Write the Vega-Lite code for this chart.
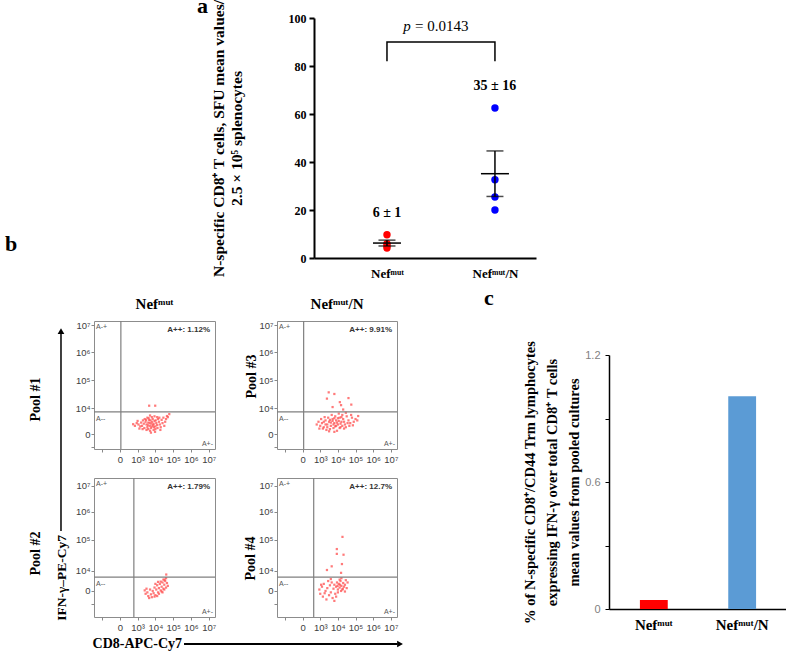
{
"$schema":"https://vega.github.io/schema/vega-lite/v6.json",
"padding":{"left":5,"top":-5,"right":0,"bottom":0},
"config":{"view":{"stroke":null},"axis":{"grid":false,"labelOverlap":false,"labelFlush":false},"text":{"font":"Liberation Serif"}},
"datasets":{
"sfu":[
{"group":"Nefᵐᵘᵗ","sfu":9.7,"summary":"6 ± 1"},{"group":"Nefᵐᵘᵗ","sfu":6.0,"summary":"6 ± 1"},{"group":"Nefᵐᵘᵗ","sfu":4.2,"summary":"6 ± 1"},{"group":"Nefᵐᵘᵗ","sfu":5.0,"summary":"6 ± 1"},
{"group":"Nefᵐᵘᵗ/N","sfu":62.5,"summary":"35 ± 16"},{"group":"Nefᵐᵘᵗ/N","sfu":32.6,"summary":"35 ± 16"},{"group":"Nefᵐᵘᵗ/N","sfu":25.4,"summary":"35 ± 16"},{"group":"Nefᵐᵘᵗ/N","sfu":20.0,"summary":"35 ± 16"}],
"bracket":[{"group":"Nefᵐᵘᵗ","y":82,"k":1},{"group":"Nefᵐᵘᵗ","y":90,"k":2},{"group":"Nefᵐᵘᵗ/N","y":90,"k":3},{"group":"Nefᵐᵘᵗ/N","y":82,"k":4}],
"pval":[{"from":"Nefᵐᵘᵗ","to":"Nefᵐᵘᵗ/N","label":"= 0.0143"}],
"pct":[{"group":"Nefᵐᵘᵗ","pct":0.043},{"group":"Nefᵐᵘᵗ/N","pct":1.005}],
"gates":[{"p":"TL","gx":0.06,"gy":0.81,"q":"A++: 1.12%"},{"p":"TR","gx":0.06,"gy":0.81,"q":"A++: 9.91%"},{"p":"BL","gx":0.79,"gy":0.49,"q":"A++: 1.79%"},{"p":"BR","gx":0.63,"gy":0.49,"q":"A++: 12.7%"}],
"events":[
{"p":"TL","x":1.5,"y":0.35},{"p":"TL","x":1.6,"y":0.42},{"p":"TL","x":1.7,"y":0.30},{"p":"TL","x":1.8,"y":0.45},{"p":"TL","x":1.9,"y":0.38},{"p":"TL","x":2.0,"y":0.28},{"p":"TL","x":1.65,"y":0.52},{"p":"TL","x":1.75,"y":0.22},{"p":"TL","x":1.85,"y":0.55},{"p":"TL","x":1.95,"y":0.48},{"p":"TL","x":2.05,"y":0.40},{"p":"TL","x":2.1,"y":0.33},{"p":"TL","x":1.55,"y":0.25},{"p":"TL","x":1.45,"y":0.45},{"p":"TL","x":1.35,"y":0.38},{"p":"TL","x":1.25,"y":0.30},{"p":"TL","x":1.4,"y":0.55},{"p":"TL","x":1.3,"y":0.50},{"p":"TL","x":2.2,"y":0.45},{"p":"TL","x":2.25,"y":0.35},{"p":"TL","x":2.15,"y":0.55},{"p":"TL","x":2.3,"y":0.25},{"p":"TL","x":2.0,"y":0.18},{"p":"TL","x":1.9,"y":0.15},{"p":"TL","x":1.7,"y":0.12},{"p":"TL","x":1.6,"y":0.18},{"p":"TL","x":1.5,"y":0.15},{"p":"TL","x":1.8,"y":0.62},{"p":"TL","x":1.95,"y":0.65},{"p":"TL","x":2.1,"y":0.62},{"p":"TL","x":1.55,"y":0.60},{"p":"TL","x":1.7,"y":0.68},{"p":"TL","x":2.35,"y":0.52},{"p":"TL","x":2.4,"y":0.40},{"p":"TL","x":2.45,"y":0.60},{"p":"TL","x":1.2,"y":0.42},{"p":"TL","x":1.15,"y":0.28},{"p":"TL","x":1.05,"y":0.35},{"p":"TL","x":0.95,"y":0.40},{"p":"TL","x":0.85,"y":0.30},{"p":"TL","x":0.75,"y":0.36},{"p":"TL","x":1.0,"y":0.48},{"p":"TL","x":1.1,"y":0.20},{"p":"TL","x":2.55,"y":0.45},{"p":"TL","x":2.6,"y":0.55},{"p":"TL","x":2.7,"y":0.62},{"p":"TL","x":1.88,"y":0.33},{"p":"TL","x":1.78,"y":0.38},{"p":"TL","x":1.68,"y":0.40},{"p":"TL","x":1.58,"y":0.32},{"p":"TL","x":2.02,"y":0.50},{"p":"TL","x":1.92,"y":0.25},{"p":"TL","x":1.82,"y":0.28},{"p":"TL","x":1.72,"y":0.50},{"p":"TL","x":1.62,"y":0.58},{"p":"TL","x":2.12,"y":0.22},{"p":"TL","x":2.22,"y":0.60},{"p":"TL","x":1.48,"y":0.52},{"p":"TL","x":1.38,"y":0.22},{"p":"TL","x":1.28,"y":0.18},{"p":"TL","x":2.28,"y":0.15},{"p":"TL","x":1.98,"y":0.08},{"p":"TL","x":1.75,"y":0.05},{"p":"TL","x":2.5,"y":0.30},{"p":"TL","x":2.65,"y":0.66},{"p":"TL","x":1.65,"y":1.04},{"p":"TL","x":1.99,"y":1.04},{"p":"TL","x":2.78,"y":0.73},
{"p":"TR","x":0.8,"y":0.35},{"p":"TR","x":0.9,"y":0.45},{"p":"TR","x":1.0,"y":0.30},{"p":"TR","x":1.1,"y":0.40},{"p":"TR","x":1.2,"y":0.25},{"p":"TR","x":1.3,"y":0.50},{"p":"TR","x":1.4,"y":0.35},{"p":"TR","x":1.5,"y":0.45},{"p":"TR","x":1.6,"y":0.30},{"p":"TR","x":1.7,"y":0.55},{"p":"TR","x":1.8,"y":0.40},{"p":"TR","x":1.9,"y":0.50},{"p":"TR","x":2.0,"y":0.35},{"p":"TR","x":2.1,"y":0.60},{"p":"TR","x":2.2,"y":0.45},{"p":"TR","x":2.3,"y":0.55},{"p":"TR","x":2.4,"y":0.35},{"p":"TR","x":2.5,"y":0.65},{"p":"TR","x":2.6,"y":0.50},{"p":"TR","x":2.7,"y":0.40},{"p":"TR","x":2.8,"y":0.60},{"p":"TR","x":2.9,"y":0.45},{"p":"TR","x":3.0,"y":0.55},{"p":"TR","x":3.1,"y":0.50},{"p":"TR","x":1.15,"y":0.20},{"p":"TR","x":1.35,"y":0.15},{"p":"TR","x":1.55,"y":0.18},{"p":"TR","x":1.75,"y":0.22},{"p":"TR","x":1.95,"y":0.12},{"p":"TR","x":2.15,"y":0.25},{"p":"TR","x":2.35,"y":0.20},{"p":"TR","x":1.45,"y":0.60},{"p":"TR","x":1.65,"y":0.70},{"p":"TR","x":1.85,"y":0.65},{"p":"TR","x":2.05,"y":0.75},{"p":"TR","x":2.25,"y":0.70},{"p":"TR","x":2.45,"y":0.78},{"p":"TR","x":1.25,"y":0.62},{"p":"TR","x":1.05,"y":0.55},{"p":"TR","x":0.95,"y":0.20},{"p":"TR","x":1.6,"y":0.42},{"p":"TR","x":1.75,"y":0.35},{"p":"TR","x":1.85,"y":0.28},{"p":"TR","x":1.95,"y":0.42},{"p":"TR","x":2.05,"y":0.48},{"p":"TR","x":2.15,"y":0.38},{"p":"TR","x":2.25,"y":0.30},{"p":"TR","x":1.55,"y":0.52},{"p":"TR","x":1.7,"y":0.48},{"p":"TR","x":1.8,"y":0.58},{"p":"TR","x":1.9,"y":0.30},{"p":"TR","x":2.0,"y":0.58},{"p":"TR","x":2.1,"y":0.22},{"p":"TR","x":2.2,"y":0.62},{"p":"TR","x":2.35,"y":0.45},{"p":"TR","x":2.55,"y":0.40},{"p":"TR","x":2.65,"y":0.30},{"p":"TR","x":2.75,"y":0.70},{"p":"TR","x":1.4,"y":0.25},{"p":"TR","x":1.3,"y":0.35},{"p":"TR","x":1.2,"y":0.45},{"p":"TR","x":2.85,"y":0.32},{"p":"TR","x":3.15,"y":0.66},{"p":"TR","x":1.5,"y":0.10},{"p":"TR","x":1.8,"y":0.08},{"p":"TR","x":2.45,"y":0.25},{"p":"TR","x":1.48,"y":1.53},{"p":"TR","x":1.8,"y":1.47},{"p":"TR","x":2.6,"y":1.32},{"p":"TR","x":1.38,"y":1.30},{"p":"TR","x":2.11,"y":1.17},{"p":"TR","x":1.7,"y":0.99},{"p":"TR","x":2.18,"y":1.06},{"p":"TR","x":2.76,"y":1.08},{"p":"TR","x":2.3,"y":0.90},
{"p":"BL","x":1.40,"y":0.02},{"p":"BL","x":1.45,"y":-0.10},{"p":"BL","x":1.55,"y":-0.05},{"p":"BL","x":1.6,"y":-0.18},{"p":"BL","x":1.7,"y":0.05},{"p":"BL","x":1.75,"y":-0.12},{"p":"BL","x":1.8,"y":-0.22},{"p":"BL","x":1.85,"y":0.00},{"p":"BL","x":1.5,"y":0.08},{"p":"BL","x":1.65,"y":-0.25},{"p":"BL","x":1.9,"y":-0.08},{"p":"BL","x":1.95,"y":0.12},{"p":"BL","x":2.0,"y":-0.15},{"p":"BL","x":2.05,"y":0.05},{"p":"BL","x":2.1,"y":0.20},{"p":"BL","x":2.15,"y":-0.05},{"p":"BL","x":2.2,"y":0.10},{"p":"BL","x":2.25,"y":0.25},{"p":"BL","x":2.3,"y":0.02},{"p":"BL","x":2.35,"y":0.15},{"p":"BL","x":2.4,"y":0.30},{"p":"BL","x":2.45,"y":0.08},{"p":"BL","x":2.5,"y":0.22},{"p":"BL","x":2.55,"y":0.35},{"p":"BL","x":2.6,"y":0.12},{"p":"BL","x":2.65,"y":0.28},{"p":"BL","x":2.7,"y":0.18},{"p":"BL","x":2.2,"y":-0.10},{"p":"BL","x":2.35,"y":-0.02},{"p":"BL","x":2.45,"y":0.40},{"p":"BL","x":2.52,"y":0.40},{"p":"BL","x":2.61,"y":0.58},{"p":"BL","x":2.3,"y":0.33},{"p":"BL","x":2.1,"y":-0.18},{"p":"BL","x":2.0,"y":0.25},{"p":"BL","x":2.4,"y":-0.05},{"p":"BL","x":2.6,"y":0.45},{"p":"BL","x":1.95,"y":-0.20},{"p":"BL","x":2.5,"y":0.05},{"p":"BL","x":2.15,"y":0.32},
{"p":"BR","x":0.95,"y":0.05},{"p":"BR","x":1.0,"y":-0.10},{"p":"BR","x":1.1,"y":0.15},{"p":"BR","x":1.15,"y":-0.20},{"p":"BR","x":1.2,"y":0.25},{"p":"BR","x":1.3,"y":0.00},{"p":"BR","x":1.35,"y":-0.30},{"p":"BR","x":1.4,"y":0.10},{"p":"BR","x":1.5,"y":-0.15},{"p":"BR","x":1.55,"y":0.20},{"p":"BR","x":1.6,"y":-0.05},{"p":"BR","x":1.65,"y":0.30},{"p":"BR","x":1.7,"y":-0.25},{"p":"BR","x":1.75,"y":0.08},{"p":"BR","x":1.8,"y":0.22},{"p":"BR","x":1.85,"y":-0.10},{"p":"BR","x":1.9,"y":0.15},{"p":"BR","x":1.95,"y":0.30},{"p":"BR","x":2.0,"y":0.05},{"p":"BR","x":2.05,"y":0.25},{"p":"BR","x":2.1,"y":0.12},{"p":"BR","x":2.15,"y":0.35},{"p":"BR","x":2.2,"y":0.18},{"p":"BR","x":2.25,"y":0.05},{"p":"BR","x":2.3,"y":0.28},{"p":"BR","x":2.35,"y":0.15},{"p":"BR","x":2.4,"y":0.22},{"p":"BR","x":2.5,"y":0.10},{"p":"BR","x":2.55,"y":0.30},{"p":"BR","x":2.0,"y":-0.05},{"p":"BR","x":2.1,"y":0.40},{"p":"BR","x":2.2,"y":0.45},{"p":"BR","x":1.9,"y":-0.20},{"p":"BR","x":1.45,"y":0.35},{"p":"BR","x":1.25,"y":-0.08},{"p":"BR","x":2.28,"y":0.08},{"p":"BR","x":2.45,"y":0.38},{"p":"BR","x":1.98,"y":0.18},{"p":"BR","x":2.12,"y":0.22},{"p":"BR","x":2.18,"y":0.00},{"p":"BR","x":1.05,"y":0.22},{"p":"BR","x":1.6,"y":0.42},{"p":"BR","x":1.8,"y":-0.35},{"p":"BR","x":2.4,"y":-0.02},{"p":"BR","x":2.26,"y":1.91},{"p":"BR","x":1.94,"y":1.48},{"p":"BR","x":1.94,"y":1.31},{"p":"BR","x":2.32,"y":1.28},{"p":"BR","x":2.23,"y":0.95},{"p":"BR","x":1.65,"y":0.87},{"p":"BR","x":1.38,"y":0.74},{"p":"BR","x":2.18,"y":0.64}
]},
"spacing":7,
"vconcat":[
{"hconcat":[
 {"width":309,"height":233,"title":{"text":"b","orient":"bottom","anchor":"start","offset":0,"baseline":"alphabetic","font":"Liberation Serif","fontSize":22,"fontWeight":"bold","color":"black"},"data":{"values":[]},"mark":"point"},
 {"width":222,"height":240,
  "title":{"text":"a","anchor":"start","frame":"group","dx":-117,"offset":-36,"baseline":"alphabetic","font":"Liberation Serif","fontSize":22,"fontWeight":"bold","color":"black"},
  "layer":[
   {"data":{"name":"sfu"},"mark":{"type":"circle","size":55,"opacity":1},
    "encoding":{
     "x":{"field":"group","type":"nominal","scale":{"type":"point","domain":["Nefᵐᵘᵗ","Nefᵐᵘᵗ/N"],"padding":0.528,"align":0.64},"axis":{"title":null,"labelAngle":0,"ticks":false,"domainColor":"black","domainWidth":2,"labelFont":"Liberation Serif","labelFontWeight":"bold","labelFontSize":13,"labelColor":"black","labelPadding":9}},
     "y":{"field":"sfu","type":"quantitative","scale":{"domain":[0,100],"nice":false},"axis":{"title":["N-specific CD8⁺ T cells, SFU mean values/","2.5 × 10⁵ splenocytes"],"values":[0,20,40,60,80,100],"tickCount":10,"grid":false,"domainColor":"black","domainWidth":2,"tickColor":"black","tickWidth":2,"tickSize":5,"labelFont":"Liberation Serif","labelFontWeight":"bold","labelFontSize":12,"labelColor":"black","labelPadding":3,"titleFont":"Liberation Serif","titleFontWeight":"bold","titleFontSize":15.5,"titleColor":"black","titlePadding":44,"titleLineHeight":18}},
     "color":{"condition":{"test":"datum.group==='Nefᵐᵘᵗ'","value":"#ff0000"},"value":"#0000ff"}}},
   {"data":{"name":"sfu"},"mark":{"type":"errorbar","extent":"stderr","color":"black","thickness":1.5,"ticks":{"size":17,"thickness":1.5,"color":"black"}},
    "encoding":{"x":{"field":"group","type":"nominal","title":""},"y":{"field":"sfu","type":"quantitative","title":""}}},
   {"data":{"name":"sfu"},"mark":{"type":"tick","size":28,"thickness":1.5,"color":"black","orient":"horizontal"},
    "encoding":{"x":{"field":"group","type":"nominal","title":""},"y":{"aggregate":"mean","field":"sfu","type":"quantitative","title":""}}},
   {"data":{"name":"sfu"},"transform":[{"aggregate":[{"op":"max","field":"sfu","as":"top"}],"groupby":["group","summary"]}],
    "mark":{"type":"text","dy":-22,"font":"Liberation Serif","fontWeight":"bold","fontSize":14,"color":"black"},
    "encoding":{"x":{"field":"group","type":"nominal","title":""},"y":{"field":"top","type":"quantitative","title":""},"text":{"field":"summary"}}},
   {"data":{"name":"bracket"},"mark":{"type":"line","color":"black","strokeWidth":1.5},
    "encoding":{"x":{"field":"group","type":"nominal","title":""},"y":{"field":"y","type":"quantitative","title":""},"order":{"field":"k"}}},
   {"data":{"name":"pval"},"mark":{"type":"text","dx":20,"fontStyle":"italic","font":"Liberation Serif","fontSize":15,"color":"black"},
    "encoding":{"x":{"field":"from","type":"nominal","title":""},"y":{"datum":96.5,"type":"quantitative","title":""},"text":{"value":"p"}}},
   {"data":{"name":"pval"},"mark":{"type":"text","dx":28,"align":"left","font":"Liberation Serif","fontSize":15,"color":"black"},
    "encoding":{"x":{"field":"from","type":"nominal","title":""},"y":{"datum":96.5,"type":"quantitative","title":""},"text":{"field":"label"}}}
  ]}
],"spacing":0,"bounds":"flush"},
{"hconcat":[
 {"width":22,"height":1,"data":{"values":[]},"mark":"point"},
 {"columns":3,"spacing":0,"bounds":"flush","align":"each",
  "concat":[
   {"width":121,"height":128,"view":{"stroke":"#8c8c8c"},
    "title":{"text":"Nefᵐᵘᵗ","anchor":"middle","offset":-4,"baseline":"alphabetic","font":"Liberation Serif","fontSize":15,"fontWeight":"bold","color":"black"},
    "layer":[
     {"data":{"name":"events"},"transform":[{"filter":"datum.p==='TL'"}],"mark":{"type":"square","size":5,"color":"#ff4d4d","opacity":0.75},
      "encoding":{
       "x":{"field":"x","type":"quantitative","scale":{"domain":[-1.45,5.35],"nice":false,"zero":false},"axis":{"title":null,"values":[-1,0,1,2,3,4,5],"tickCount":20,"labelExpr":"datum.value<0?'':['0','10³','10⁴','10⁵','10⁶','10⁷'][datum.value]","labelOverlap":false,"domain":false,"tickColor":"#888888","tickSize":3,"labelFont":"Liberation Sans","labelFontSize":9.5,"labelColor":"#404040","labelPadding":2}},
       "y":{"field":"y","type":"quantitative","scale":{"domain":[-0.55,4.15],"nice":false,"zero":false},"axis":{"title":"Pool #1","titleX":-59,"titleY":78,"titleAngle":270,"titleAlign":"center","titleBaseline":"middle","titleFont":"Liberation Serif","titleFontWeight":"bold","titleFontSize":14,"titleColor":"black","values":[-0.48,0,0.95,1.98,3.01,4.0],"tickCount":20,"labelExpr":"datum.value<-0.1?'':datum.value<0.5?'0':datum.value<1.5?'10⁴':datum.value<2.5?'10⁵':datum.value<3.5?'10⁶':'10⁷'","labelOverlap":false,"domain":false,"tickColor":"#888888","tickSize":3,"labelFont":"Liberation Sans","labelFontSize":9.5,"labelColor":"#404040","labelPadding":1}}}},
     {"data":{"name":"gates"},"transform":[{"filter":"datum.p==='TL'"}],"mark":{"type":"rule","color":"#7f7f7f","strokeWidth":1.2},"encoding":{"x":{"field":"gx","type":"quantitative"}}},
     {"data":{"name":"gates"},"transform":[{"filter":"datum.p==='TL'"}],"mark":{"type":"rule","color":"#7f7f7f","strokeWidth":1.2},"encoding":{"y":{"field":"gy","type":"quantitative"}}},
     {"data":{"name":"gates"},"transform":[{"filter":"datum.p==='TL'"}],"mark":{"type":"text","align":"right","baseline":"top","dx":-5,"dy":5,"font":"Liberation Sans","fontSize":8,"fontWeight":"bold","color":"#333333"},"encoding":{"x":{"datum":5.35,"type":"quantitative"},"y":{"datum":4.15,"type":"quantitative"},"text":{"field":"q"}}},
     {"data":{"name":"gates"},"transform":[{"filter":"datum.p==='TL'"}],"mark":{"type":"text","align":"left","baseline":"top","dx":2,"dy":2,"font":"Liberation Sans","fontSize":7,"color":"#555555"},"encoding":{"x":{"datum":-1.45,"type":"quantitative"},"y":{"datum":4.15,"type":"quantitative"},"text":{"value":"A-+"}}},
     {"data":{"name":"gates"},"transform":[{"filter":"datum.p==='TL'"}],"mark":{"type":"text","align":"left","baseline":"top","dx":2,"dy":3,"font":"Liberation Sans","fontSize":7,"color":"#555555"},"encoding":{"x":{"datum":-1.45,"type":"quantitative"},"y":{"field":"gy","type":"quantitative"},"text":{"value":"A--"}}},
     {"data":{"name":"gates"},"transform":[{"filter":"datum.p==='TL'"}],"mark":{"type":"text","align":"right","baseline":"bottom","dx":-2,"dy":-2,"font":"Liberation Sans","fontSize":7,"color":"#555555"},"encoding":{"x":{"datum":5.35,"type":"quantitative"},"y":{"datum":-0.55,"type":"quantitative"},"text":{"value":"A+-"}}},
     {"data":{"name":"gates"},"transform":[{"filter":"datum.p==='TL'"}],"mark":{"type":"rule","color":"black","strokeWidth":1.5},"encoding":{"x":{"datum":-3.305,"type":"quantitative"},"y":{"datum":3.75,"type":"quantitative"},"y2":{"datum":-3.562}}},
     {"data":{"name":"gates"},"transform":[{"filter":"datum.p==='TL'"}],"mark":{"type":"point","shape":"triangle-up","filled":true,"size":45,"color":"black","opacity":1},"encoding":{"x":{"datum":-3.305,"type":"quantitative"},"y":{"datum":3.78,"type":"quantitative"}}},
     {"data":{"name":"gates"},"transform":[{"filter":"datum.p==='TL'"}],"mark":{"type":"text","angle":270,"align":"right","baseline":"middle","font":"Liberation Serif","fontSize":13.5,"fontWeight":"bold","color":"black"},"encoding":{"x":{"datum":-3.249,"type":"quantitative"},"y":{"datum":-3.709,"type":"quantitative"},"text":{"value":"IFN-γ–PE-Cy7"}}}
    ]},
   {"width":62,"height":1,"data":{"values":[]},"mark":"point"},
   {"width":120,"height":128,"view":{"stroke":"#8c8c8c"},
    "title":{"text":"Nefᵐᵘᵗ/N","anchor":"middle","offset":-4,"baseline":"alphabetic","font":"Liberation Serif","fontSize":15,"fontWeight":"bold","color":"black"},
    "layer":[
     {"data":{"name":"events"},"transform":[{"filter":"datum.p==='TR'"}],"mark":{"type":"square","size":5,"color":"#ff4d4d","opacity":0.75},
      "encoding":{
       "x":{"field":"x","type":"quantitative","scale":{"domain":[-1.45,5.35],"nice":false,"zero":false},"axis":{"title":null,"values":[-1,0,1,2,3,4,5],"tickCount":20,"labelExpr":"datum.value<0?'':['0','10³','10⁴','10⁵','10⁶','10⁷'][datum.value]","labelOverlap":false,"domain":false,"tickColor":"#888888","tickSize":3,"labelFont":"Liberation Sans","labelFontSize":9.5,"labelColor":"#404040","labelPadding":2}},
       "y":{"field":"y","type":"quantitative","scale":{"domain":[-0.55,4.15],"nice":false,"zero":false},"axis":{"title":"Pool #3","titleX":-26,"titleY":55,"titleAngle":270,"titleAlign":"center","titleBaseline":"middle","titleFont":"Liberation Serif","titleFontWeight":"bold","titleFontSize":14,"titleColor":"black","values":[-0.48,0,0.95,1.98,3.01,4.0],"tickCount":20,"labelExpr":"datum.value<-0.1?'':datum.value<0.5?'0':datum.value<1.5?'10⁴':datum.value<2.5?'10⁵':datum.value<3.5?'10⁶':'10⁷'","labelOverlap":false,"domain":false,"tickColor":"#888888","tickSize":3,"labelFont":"Liberation Sans","labelFontSize":9.5,"labelColor":"#404040","labelPadding":1}}}},
     {"data":{"name":"gates"},"transform":[{"filter":"datum.p==='TR'"}],"mark":{"type":"rule","color":"#7f7f7f","strokeWidth":1.2},"encoding":{"x":{"field":"gx","type":"quantitative"}}},
     {"data":{"name":"gates"},"transform":[{"filter":"datum.p==='TR'"}],"mark":{"type":"rule","color":"#7f7f7f","strokeWidth":1.2},"encoding":{"y":{"field":"gy","type":"quantitative"}}},
     {"data":{"name":"gates"},"transform":[{"filter":"datum.p==='TR'"}],"mark":{"type":"text","align":"right","baseline":"top","dx":-5,"dy":5,"font":"Liberation Sans","fontSize":8,"fontWeight":"bold","color":"#333333"},"encoding":{"x":{"datum":5.35,"type":"quantitative"},"y":{"datum":4.15,"type":"quantitative"},"text":{"field":"q"}}},
     {"data":{"name":"gates"},"transform":[{"filter":"datum.p==='TR'"}],"mark":{"type":"text","align":"left","baseline":"top","dx":2,"dy":2,"font":"Liberation Sans","fontSize":7,"color":"#555555"},"encoding":{"x":{"datum":-1.45,"type":"quantitative"},"y":{"datum":4.15,"type":"quantitative"},"text":{"value":"A-+"}}},
     {"data":{"name":"gates"},"transform":[{"filter":"datum.p==='TR'"}],"mark":{"type":"text","align":"left","baseline":"top","dx":2,"dy":3,"font":"Liberation Sans","fontSize":7,"color":"#555555"},"encoding":{"x":{"datum":-1.45,"type":"quantitative"},"y":{"field":"gy","type":"quantitative"},"text":{"value":"A--"}}},
     {"data":{"name":"gates"},"transform":[{"filter":"datum.p==='TR'"}],"mark":{"type":"text","align":"right","baseline":"bottom","dx":-2,"dy":-2,"font":"Liberation Sans","fontSize":7,"color":"#555555"},"encoding":{"x":{"datum":5.35,"type":"quantitative"},"y":{"datum":-0.55,"type":"quantitative"},"text":{"value":"A+-"}}}
    ]},
   {"width":1,"height":29,"data":{"values":[]},"mark":"point"},
   {"width":1,"height":1,"data":{"values":[]},"mark":"point"},
   {"width":1,"height":1,"data":{"values":[]},"mark":"point"},
   {"width":121,"height":139,"view":{"stroke":"#8c8c8c"},
    "layer":[
     {"data":{"name":"events"},"transform":[{"filter":"datum.p==='BL'"}],"mark":{"type":"square","size":5,"color":"#ff4d4d","opacity":0.75},
      "encoding":{
       "x":{"field":"x","type":"quantitative","scale":{"domain":[-1.45,5.35],"nice":false,"zero":false},"axis":{"title":null,"values":[-1,0,1,2,3,4,5],"tickCount":20,"labelExpr":"datum.value<0?'':['0','10³','10⁴','10⁵','10⁶','10⁷'][datum.value]","labelOverlap":false,"domain":false,"tickColor":"#888888","tickSize":3,"labelFont":"Liberation Sans","labelFontSize":9.5,"labelColor":"#404040","labelPadding":2}},
       "y":{"field":"y","type":"quantitative","scale":{"domain":[-0.92,3.99],"nice":false,"zero":false},"axis":{"title":"Pool #2","titleX":-59,"titleY":75,"titleAngle":270,"titleAlign":"center","titleBaseline":"middle","titleFont":"Liberation Serif","titleFontWeight":"bold","titleFontSize":14,"titleColor":"black","values":[-0.46,0,0.71,1.80,2.79,3.71],"tickCount":20,"labelExpr":"datum.value<-0.1?'':datum.value<0.35?'0':datum.value<1.2?'10⁴':datum.value<2.3?'10⁵':datum.value<3.2?'10⁶':'10⁷'","labelOverlap":false,"domain":false,"tickColor":"#888888","tickSize":3,"labelFont":"Liberation Sans","labelFontSize":9.5,"labelColor":"#404040","labelPadding":1}}}},
     {"data":{"name":"gates"},"transform":[{"filter":"datum.p==='BL'"}],"mark":{"type":"rule","color":"#7f7f7f","strokeWidth":1.2},"encoding":{"x":{"field":"gx","type":"quantitative"}}},
     {"data":{"name":"gates"},"transform":[{"filter":"datum.p==='BL'"}],"mark":{"type":"rule","color":"#7f7f7f","strokeWidth":1.2},"encoding":{"y":{"field":"gy","type":"quantitative"}}},
     {"data":{"name":"gates"},"transform":[{"filter":"datum.p==='BL'"}],"mark":{"type":"text","align":"right","baseline":"top","dx":-5,"dy":5,"font":"Liberation Sans","fontSize":8,"fontWeight":"bold","color":"#333333"},"encoding":{"x":{"datum":5.35,"type":"quantitative"},"y":{"datum":3.99,"type":"quantitative"},"text":{"field":"q"}}},
     {"data":{"name":"gates"},"transform":[{"filter":"datum.p==='BL'"}],"mark":{"type":"text","align":"left","baseline":"top","dx":2,"dy":2,"font":"Liberation Sans","fontSize":7,"color":"#555555"},"encoding":{"x":{"datum":-1.45,"type":"quantitative"},"y":{"datum":3.99,"type":"quantitative"},"text":{"value":"A-+"}}},
     {"data":{"name":"gates"},"transform":[{"filter":"datum.p==='BL'"}],"mark":{"type":"text","align":"left","baseline":"top","dx":2,"dy":3,"font":"Liberation Sans","fontSize":7,"color":"#555555"},"encoding":{"x":{"datum":-1.45,"type":"quantitative"},"y":{"field":"gy","type":"quantitative"},"text":{"value":"A--"}}},
     {"data":{"name":"gates"},"transform":[{"filter":"datum.p==='BL'"}],"mark":{"type":"text","align":"right","baseline":"bottom","dx":-2,"dy":-2,"font":"Liberation Sans","fontSize":7,"color":"#555555"},"encoding":{"x":{"datum":5.35,"type":"quantitative"},"y":{"datum":-0.92,"type":"quantitative"},"text":{"value":"A+-"}}},
     {"data":{"name":"gates"},"transform":[{"filter":"datum.p==='BL'"}],"mark":{"type":"rule","color":"black","strokeWidth":1.8},"encoding":{"x":{"datum":3.609,"type":"quantitative"},"x2":{"datum":15.6},"y":{"datum":-1.874,"type":"quantitative"}}},
     {"data":{"name":"gates"},"transform":[{"filter":"datum.p==='BL'"}],"mark":{"type":"point","shape":"triangle-right","filled":true,"size":45,"color":"black","opacity":1},"encoding":{"x":{"datum":15.75,"type":"quantitative"},"y":{"datum":-1.874,"type":"quantitative"}}},
     {"data":{"name":"gates"},"transform":[{"filter":"datum.p==='BL'"}],"mark":{"type":"text","align":"right","baseline":"middle","font":"Liberation Serif","fontSize":14,"fontWeight":"bold","color":"black"},"encoding":{"x":{"datum":3.497,"type":"quantitative"},"y":{"datum":-1.874,"type":"quantitative"},"text":{"value":"CD8-APC-Cy7"}}}
    ]},
   {"width":62,"height":1,"data":{"values":[]},"mark":"point"},
   {"width":120,"height":139,"view":{"stroke":"#8c8c8c"},
    "layer":[
     {"data":{"name":"events"},"transform":[{"filter":"datum.p==='BR'"}],"mark":{"type":"square","size":5,"color":"#ff4d4d","opacity":0.75},
      "encoding":{
       "x":{"field":"x","type":"quantitative","scale":{"domain":[-1.45,5.35],"nice":false,"zero":false},"axis":{"title":null,"values":[-1,0,1,2,3,4,5],"tickCount":20,"labelExpr":"datum.value<0?'':['0','10³','10⁴','10⁵','10⁶','10⁷'][datum.value]","labelOverlap":false,"domain":false,"tickColor":"#888888","tickSize":3,"labelFont":"Liberation Sans","labelFontSize":9.5,"labelColor":"#404040","labelPadding":2}},
       "y":{"field":"y","type":"quantitative","scale":{"domain":[-0.92,3.99],"nice":false,"zero":false},"axis":{"title":"Pool #4","titleX":-27,"titleY":80,"titleAngle":270,"titleAlign":"center","titleBaseline":"middle","titleFont":"Liberation Serif","titleFontWeight":"bold","titleFontSize":14,"titleColor":"black","values":[-0.46,0,0.71,1.80,2.79,3.71],"tickCount":20,"labelExpr":"datum.value<-0.1?'':datum.value<0.35?'0':datum.value<1.2?'10⁴':datum.value<2.3?'10⁵':datum.value<3.2?'10⁶':'10⁷'","labelOverlap":false,"domain":false,"tickColor":"#888888","tickSize":3,"labelFont":"Liberation Sans","labelFontSize":9.5,"labelColor":"#404040","labelPadding":1}}}},
     {"data":{"name":"gates"},"transform":[{"filter":"datum.p==='BR'"}],"mark":{"type":"rule","color":"#7f7f7f","strokeWidth":1.2},"encoding":{"x":{"field":"gx","type":"quantitative"}}},
     {"data":{"name":"gates"},"transform":[{"filter":"datum.p==='BR'"}],"mark":{"type":"rule","color":"#7f7f7f","strokeWidth":1.2},"encoding":{"y":{"field":"gy","type":"quantitative"}}},
     {"data":{"name":"gates"},"transform":[{"filter":"datum.p==='BR'"}],"mark":{"type":"text","align":"right","baseline":"top","dx":-5,"dy":5,"font":"Liberation Sans","fontSize":8,"fontWeight":"bold","color":"#333333"},"encoding":{"x":{"datum":5.35,"type":"quantitative"},"y":{"datum":3.99,"type":"quantitative"},"text":{"field":"q"}}},
     {"data":{"name":"gates"},"transform":[{"filter":"datum.p==='BR'"}],"mark":{"type":"text","align":"left","baseline":"top","dx":2,"dy":2,"font":"Liberation Sans","fontSize":7,"color":"#555555"},"encoding":{"x":{"datum":-1.45,"type":"quantitative"},"y":{"datum":3.99,"type":"quantitative"},"text":{"value":"A-+"}}},
     {"data":{"name":"gates"},"transform":[{"filter":"datum.p==='BR'"}],"mark":{"type":"text","align":"left","baseline":"top","dx":2,"dy":3,"font":"Liberation Sans","fontSize":7,"color":"#555555"},"encoding":{"x":{"datum":-1.45,"type":"quantitative"},"y":{"field":"gy","type":"quantitative"},"text":{"value":"A--"}}},
     {"data":{"name":"gates"},"transform":[{"filter":"datum.p==='BR'"}],"mark":{"type":"text","align":"right","baseline":"bottom","dx":-2,"dy":-2,"font":"Liberation Sans","fontSize":7,"color":"#555555"},"encoding":{"x":{"datum":5.35,"type":"quantitative"},"y":{"datum":-0.92,"type":"quantitative"},"text":{"value":"A+-"}}}
    ]}
  ]},
 {"width":80,"height":1,"data":{"values":[]},"mark":"point"},
 {"width":178,"height":288,
  "title":{"text":"c","anchor":"start","frame":"group","dx":-125,"offset":-6,"baseline":"alphabetic","font":"Liberation Serif","fontSize":22,"fontWeight":"bold","color":"black"},
  "data":{"name":"pct"},"mark":{"type":"bar"},
  "encoding":{
   "x":{"field":"group","type":"nominal","sort":null,"scale":{"paddingInner":0.685,"paddingOuter":0.35},"axis":{"title":null,"labelAngle":0,"ticks":false,"domainColor":"black","domainWidth":1.5,"labelFont":"Liberation Serif","labelFontWeight":"bold","labelFontSize":15,"labelColor":"black","labelPadding":8}},
   "y":{"field":"pct","type":"quantitative","scale":{"domain":[0,1.2],"nice":false,"range":[288,34]},"axis":{"title":["% of N-specific CD8⁺/CD44 Trm lymphocytes","expressing IFN-γ over total CD8⁺ T cells","mean values from pooled cultures"],"values":[0,0.3,0.6,0.9,1.2],"tickCount":10,"labelExpr":"datum.value==0?'0':datum.value==0.6?'0.6':datum.value==1.2?'1.2':''","grid":false,"domainColor":"black","domainWidth":1.5,"tickColor":"black","tickSize":4,"labelFont":"Liberation Sans","labelFontSize":11,"labelColor":"#7f7f7f","labelPadding":5,"titleFont":"Liberation Serif","titleFontWeight":"bold","titleFontSize":14.5,"titleColor":"black","titleLineHeight":22,"titlePadding":3}},
   "color":{"condition":{"test":"datum.group==='Nefᵐᵘᵗ'","value":"#ff0000"},"value":"#5b9bd5"}}}
],"spacing":0}
]
}
